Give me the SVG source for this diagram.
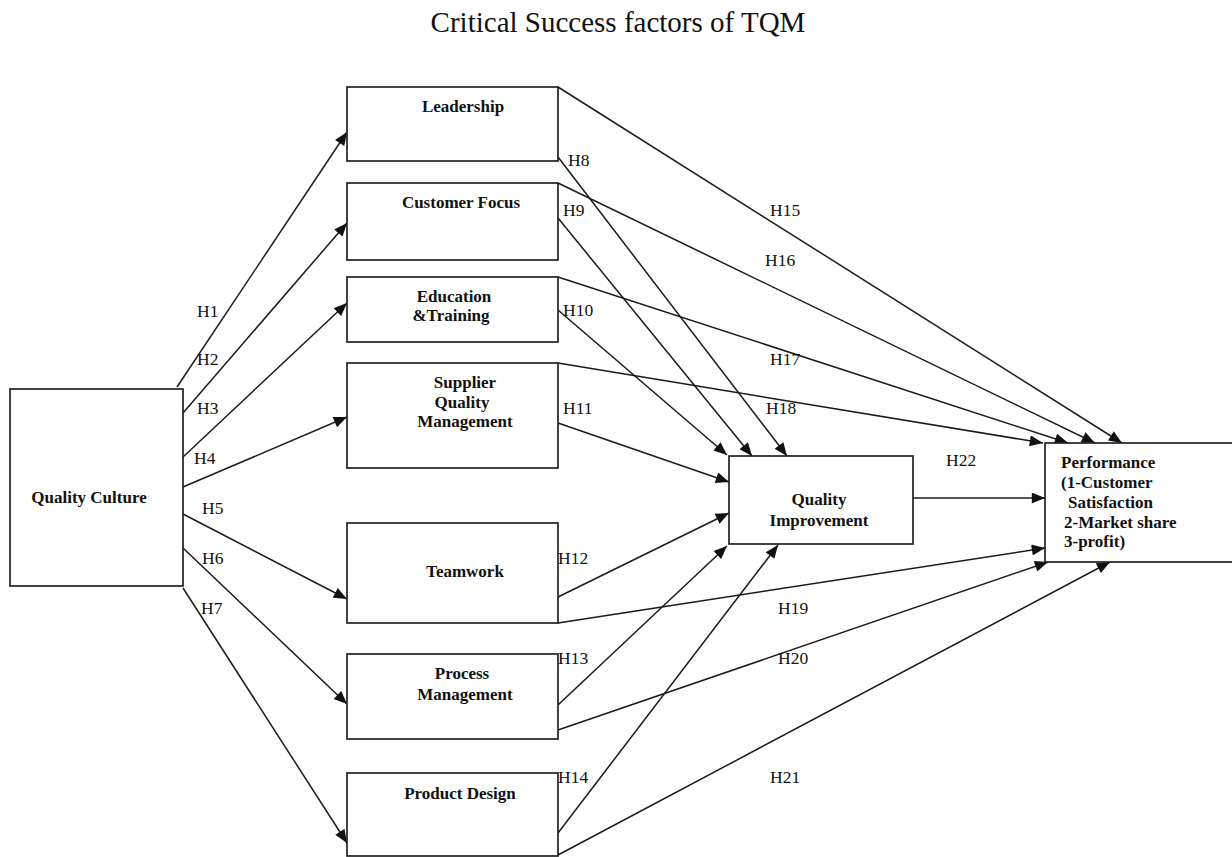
<svg xmlns="http://www.w3.org/2000/svg" width="1232" height="857" viewBox="0 0 1232 857">
<defs>
<marker id="ah" viewBox="0 0 12 10" refX="12" refY="5" markerWidth="14" markerHeight="11" orient="auto" markerUnits="userSpaceOnUse"><path d="M0,0 L12,5 L0,10 z" fill="#111"/></marker>
</defs>
<style>
.box{fill:#fff;stroke:#222;stroke-width:1.7}
.lbl{font-family:"Liberation Serif",serif;font-weight:bold;font-size:17px;fill:#111}
.h{font-family:"Liberation Serif",serif;font-size:17.5px;fill:#111}
.c{fill:none;stroke:#1a1a1a;stroke-width:1.5;marker-end:url(#ah)}
.title{font-family:"Liberation Serif",serif;font-size:29px;fill:#111}
</style>
<rect width="1232" height="857" fill="#fff"/>
<text class="title" x="618" y="32" text-anchor="middle">Critical Success factors of TQM</text>
<g id="connectors">
<path class="c" d="M177,387 L347,132"/>
<path class="c" d="M183,413 L347,223"/>
<path class="c" d="M183,457 L347,303"/>
<path class="c" d="M183,487 L347,417"/>
<path class="c" d="M183,514 L347,599"/>
<path class="c" d="M183,548 L347,704"/>
<path class="c" d="M183,588 L347,843"/>
<path class="c" d="M558,157 L787,456"/>
<path class="c" d="M558,218 L752,456"/>
<path class="c" d="M558,310 L727,455"/>
<path class="c" d="M558,423 L729,482"/>
<path class="c" d="M558,597 L729,513"/>
<path class="c" d="M558,705 L727,546"/>
<path class="c" d="M558,833 L778,545"/>
<path class="c" d="M558,87 L1122,443"/>
<path class="c" d="M558,183 L1095,443"/>
<path class="c" d="M558,277 L1068,443"/>
<path class="c" d="M558,363 L1043,443"/>
<path class="c" d="M558,623 L1045,548"/>
<path class="c" d="M558,730 L1048,562"/>
<path class="c" d="M558,855 L1110,562"/>
<path class="c" d="M913,498 L1045,498"/>
<g class="h">
<text x="197" y="317">H1</text>
<text x="197" y="365">H2</text>
<text x="197" y="414">H3</text>
<text x="194" y="464">H4</text>
<text x="202" y="514">H5</text>
<text x="202" y="564">H6</text>
<text x="201" y="614">H7</text>
<text x="568" y="166">H8</text>
<text x="563" y="216">H9</text>
<text x="563" y="316">H10</text>
<text x="563" y="414">H11</text>
<text x="558" y="564">H12</text>
<text x="558" y="664">H13</text>
<text x="558" y="783">H14</text>
<text x="770" y="216">H15</text>
<text x="765" y="266">H16</text>
<text x="770" y="365">H17</text>
<text x="766" y="414">H18</text>
<text x="778" y="614">H19</text>
<text x="778" y="664">H20</text>
<text x="770" y="783">H21</text>
<text x="946" y="466">H22</text>
</g>
</g>
<g id="quality-culture">
<rect class="box" x="10" y="389" width="173" height="197"/>
<text class="lbl" x="89" y="503" text-anchor="middle">Quality Culture</text>
</g>
<g id="leadership">
<rect class="box" x="347" y="87" width="211" height="74"/>
<text class="lbl" x="463" y="112" text-anchor="middle">Leadership</text>
</g>
<g id="customer-focus">
<rect class="box" x="347" y="183" width="211" height="77"/>
<text class="lbl" x="461" y="208" text-anchor="middle">Customer Focus</text>
</g>
<g id="education-training">
<rect class="box" x="347" y="277" width="211" height="65"/>
<text class="lbl" x="454" y="302" text-anchor="middle">Education</text>
<text class="lbl" x="451" y="321" text-anchor="middle">&amp;Training</text>
</g>
<g id="supplier-quality">
<rect class="box" x="347" y="363" width="211" height="105"/>
<text class="lbl" x="465" y="388" text-anchor="middle">Supplier</text>
<text class="lbl" x="462" y="408" text-anchor="middle">Quality</text>
<text class="lbl" x="465" y="427" text-anchor="middle">Management</text>
</g>
<g id="teamwork">
<rect class="box" x="347" y="523" width="211" height="100"/>
<text class="lbl" x="465" y="577" text-anchor="middle">Teamwork</text>
</g>
<g id="process-management">
<rect class="box" x="347" y="654" width="211" height="85"/>
<text class="lbl" x="462" y="679" text-anchor="middle">Process</text>
<text class="lbl" x="465" y="700" text-anchor="middle">Management</text>
</g>
<g id="product-design">
<rect class="box" x="347" y="773" width="211" height="83"/>
<text class="lbl" x="460" y="799" text-anchor="middle">Product Design</text>
</g>
<g id="quality-improvement">
<rect class="box" x="729" y="456" width="184" height="88"/>
<text class="lbl" x="819" y="505" text-anchor="middle">Quality</text>
<text class="lbl" x="819" y="526" text-anchor="middle">Improvement</text>
</g>
<g id="performance">
<rect class="box" x="1045" y="443" width="200" height="119"/>
<text class="lbl" x="1061" y="468">Performance</text>
<text class="lbl" x="1061" y="488">(1-Customer</text>
<text class="lbl" x="1068" y="508">Satisfaction</text>
<text class="lbl" x="1064" y="528">2-Market share</text>
<text class="lbl" x="1064" y="547">3-profit)</text>
</g>
</svg>
